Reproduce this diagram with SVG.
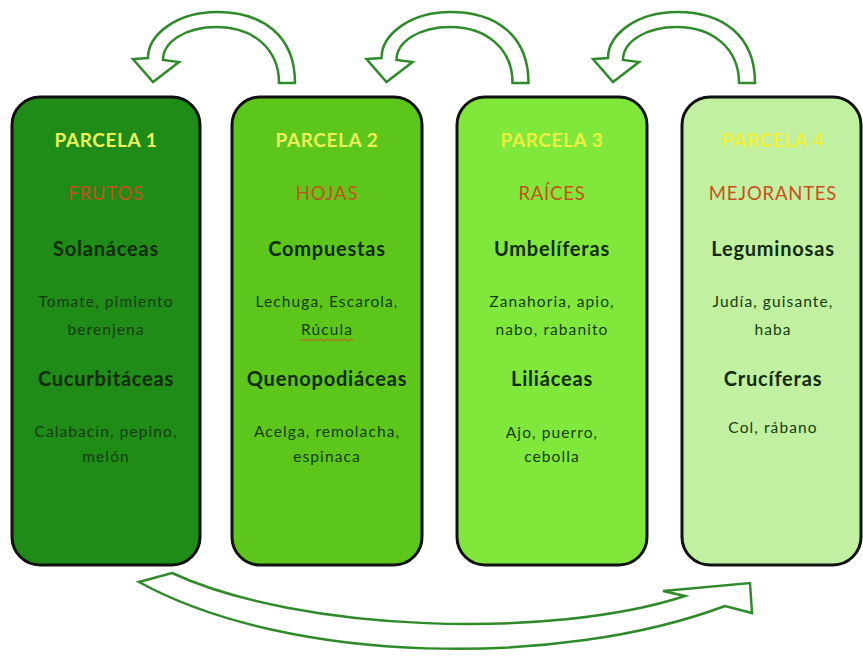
<svg xmlns="http://www.w3.org/2000/svg" width="863" height="659" viewBox="0 0 863 659">
<style>
.box{stroke:#111;stroke-width:3}
.arrow{fill:#fff;stroke:#2f8a2a;stroke-width:2.5;stroke-linejoin:miter}
text{font-family:Lato,"Liberation Sans",Arial,sans-serif;text-anchor:middle}
.hd{font-size:19px;font-weight:bold;fill:#ecf25a;letter-spacing:0.6px}
.cat{font-size:18.5px;fill:#c9501c;letter-spacing:0.8px}
.fam{font-size:20px;font-weight:bold;fill:#132a0c;letter-spacing:0.8px}
.ex{font-size:15.5px;fill:#163c0e;letter-spacing:1.1px}
</style>
<rect width="863" height="659" fill="#fff"/>
<g id="connectors">
<g id="arrow-2-1">
<path class="arrow" d="M295,83 C295,35 262,12 217,12 C176,12 148,35 148,58 L133,59 L153,82 L179,62 L163,60 C163,42 185,27 217,27 C252,27 279,48 279,83 Z"/>
</g>
<g id="arrow-3-2" transform="translate(233.5,0)">
<path class="arrow" d="M295,83 C295,35 262,12 217,12 C176,12 148,35 148,58 L133,59 L153,82 L179,62 L163,60 C163,42 185,27 217,27 C252,27 279,48 279,83 Z"/>
</g>
<g id="arrow-4-3" transform="translate(460,0)">
<path class="arrow" d="M295,83 C295,35 262,12 217,12 C176,12 148,35 148,58 L133,59 L153,82 L179,62 L163,60 C163,42 185,27 217,27 C252,27 279,48 279,83 Z"/>
</g>
<g id="arrow-1-4">
<path class="arrow" d="M172,573 C300,632 550,640 685,596 L663,591 L750,583 L752,613 L725,606 C560,668 290,665 139,582 Z"/>
</g>
</g>
<g id="parcela1">
<rect class="box" x="12" y="97" width="188" height="468" rx="28" fill="#1e8c16"/>
<text class="hd" x="106" y="147">PARCELA 1</text>
<text class="cat" x="106" y="200">FRUTOS</text>
<text class="fam" x="106" y="256">Solanáceas</text>
<text class="ex" x="106" y="307">Tomate, pimiento</text>
<text class="ex" x="106" y="335">berenjena</text>
<text class="fam" x="106" y="386">Cucurbitáceas</text>
<text class="ex" x="106" y="437">Calabacín, pepino,</text>
<text class="ex" x="106" y="462">melón</text>
</g>
<g id="parcela2">
<rect class="box" x="232" y="97" width="190" height="468" rx="28" fill="#5cc71a"/>
<text class="hd" x="327" y="147">PARCELA 2</text>
<text class="cat" x="327" y="200">HOJAS</text>
<text class="fam" x="327" y="256">Compuestas</text>
<text class="ex" x="327" y="307">Lechuga, Escarola,</text>
<text class="ex" x="327" y="335">Rúcula</text>
<path d="M300,341 l3,-2 l3,2 l3,-2 l3,2 l3,-2 l3,2 l3,-2 l3,2 l3,-2 l3,2 l3,-2 l3,2 l3,-2 l3,2 l3,-2 l3,2 l3,-2 l3,2" fill="none" stroke="#d0502a" stroke-width="1"/>
<text class="fam" x="327" y="386">Quenopodiáceas</text>
<text class="ex" x="327" y="437">Acelga, remolacha,</text>
<text class="ex" x="327" y="462">espinaca</text>
</g>
<g id="parcela3">
<rect class="box" x="457" y="97" width="190" height="468" rx="28" fill="#80e83a"/>
<text class="hd" x="552" y="147" style="fill:#eef040">PARCELA 3</text>
<text class="cat" x="552" y="200">RAÍCES</text>
<text class="fam" x="552" y="256">Umbelíferas</text>
<text class="ex" x="552" y="307">Zanahoria, apio,</text>
<text class="ex" x="552" y="335">nabo, rabanito</text>
<text class="fam" x="552" y="386">Liliáceas</text>
<text class="ex" x="552" y="438">Ajo, puerro,</text>
<text class="ex" x="552" y="462">cebolla</text>
</g>
<g id="parcela4">
<rect class="box" x="682" y="97" width="179" height="468" rx="28" fill="#c0f0a0"/>
<text class="hd" x="773" y="147" style="fill:#eef23a">PARCELA 4</text>
<text class="cat" x="773" y="200">MEJORANTES</text>
<text class="fam" x="773" y="256">Leguminosas</text>
<text class="ex" x="773" y="307">Judía, guisante,</text>
<text class="ex" x="773" y="335">haba</text>
<text class="fam" x="773" y="386">Crucíferas</text>
<text class="ex" x="773" y="433">Col, rábano</text>
</g>
</svg>
